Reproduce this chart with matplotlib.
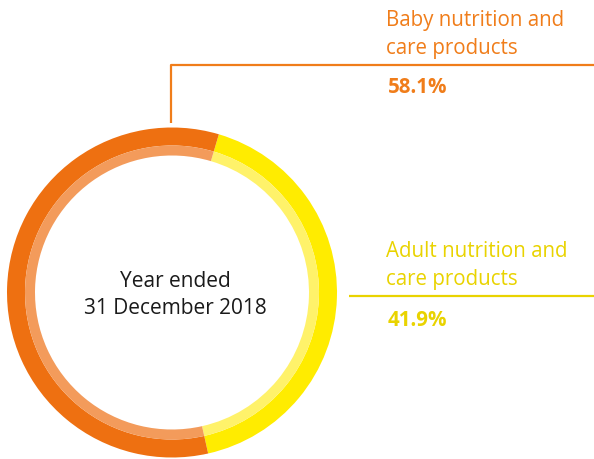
import matplotlib
matplotlib.use("Agg")
import matplotlib.pyplot as plt

categories = ["Adult nutrition and\ncare products", "Baby nutrition and\ncare products"]
shares = [41.9, 58.1]
share_labels = ["41.9%", "58.1%"]
center_label = "Year ended\n31 December 2018"

outer_colors = ["#FFEC00", "#EE7011"]
inner_colors = ["#FFF26A", "#F39B5B"]
text_colors = ["#E9D300", "#F07D1A"]

W, H = 594, 460
fig = plt.figure(figsize=(W / 100, H / 100), dpi=100)
ax = fig.add_axes([0, 0, 1, 1])

cx, cy = 172, H - 293.5
R = 165
start = 90 - 16.5

ax.pie(shares, radius=R, center=(cx, cy), colors=outer_colors, startangle=start,
       counterclock=False, wedgeprops=dict(width=18, linewidth=0), frame=True)
ax.pie(shares, radius=R - 18, center=(cx, cy), colors=inner_colors, startangle=start,
       counterclock=False, wedgeprops=dict(width=10, linewidth=0), frame=True)
ax.set_xlim(0, W)
ax.set_ylim(0, H)
ax.set_aspect("equal")
ax.axis("off")

font = "Open Sans"
ax.text(cx + 3, cy - 1.5, center_label, ha="center", va="center", fontsize=15,
        family=font, color="#1a1a1a", linespacing=1.4)

# Baby (orange) leader and labels
ax.plot([171, 171, W], [H - 124, H - 66, H - 66], color=text_colors[1], lw=1.6,
        solid_capstyle="butt")
ax.text(386, H - 34.5, categories[1], ha="left", va="center", fontsize=14.8,
        family=font, color=text_colors[1], linespacing=1.4)
ax.text(388, H - 87.5, share_labels[1], ha="left", va="center", fontsize=14.8,
        family=font, weight="bold", color=text_colors[1])

# Adult (yellow) leader and labels
ax.plot([349, W], [H - 297, H - 297], color=text_colors[0], lw=1.6,
        solid_capstyle="butt")
ax.text(386, H - 265.5, categories[0], ha="left", va="center", fontsize=14.8,
        family=font, color=text_colors[0], linespacing=1.4)
ax.text(388, H - 320, share_labels[0], ha="left", va="center", fontsize=14.8,
        family=font, weight="bold", color=text_colors[0])

fig.savefig("out.png", dpi=100)
